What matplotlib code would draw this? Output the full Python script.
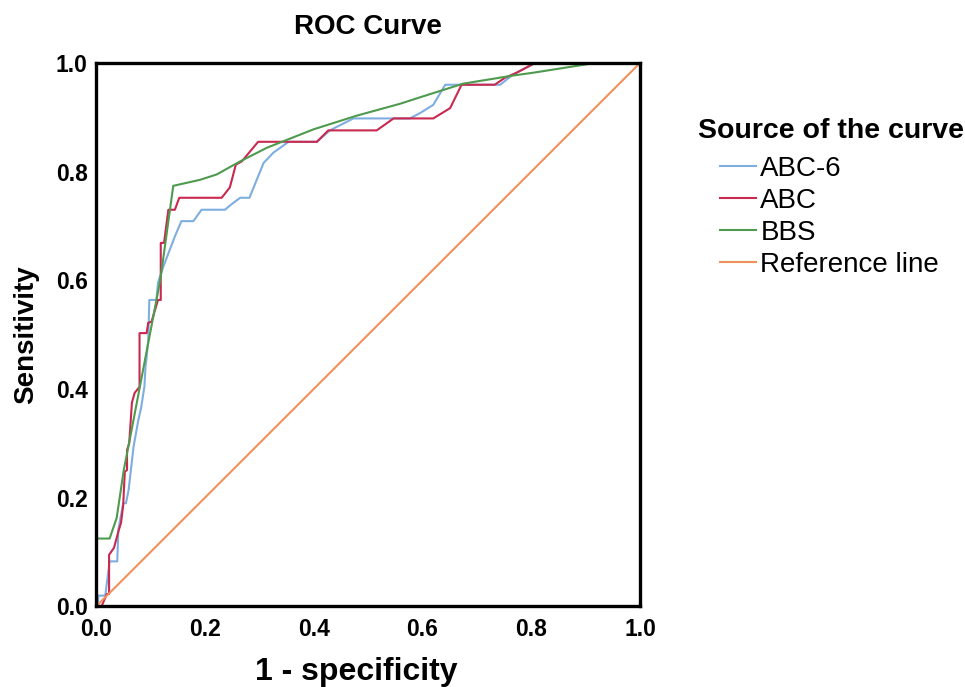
import matplotlib
matplotlib.use("Agg")
from matplotlib import pyplot as plt

plt.rcParams['font.family'] = ['Liberation Sans', 'DejaVu Sans']

# ABC-6 curve (1 - specificity, sensitivity)
abc6X = [0, 0.004, 0.004, 0.017, 0.025, 0.039, 0.040, 0.041, 0.050, 0.055, 0.060, 0.069,
         0.078, 0.083, 0.089, 0.091, 0.092, 0.096, 0.098, 0.111, 0.114, 0.124, 0.145, 0.157,
         0.179, 0.194, 0.237, 0.249, 0.265, 0.282, 0.308, 0.326, 0.354, 0.406, 0.430, 0.473,
         0.577, 0.596, 0.620, 0.642, 0.743, 0.767, 0.807, 1.0]
abc6Y = [0, 0, 0.020, 0.020, 0.083, 0.083, 0.110, 0.141, 0.190, 0.190, 0.215, 0.294,
         0.344, 0.366, 0.405, 0.442, 0.449, 0.490, 0.564, 0.564, 0.596, 0.626, 0.681, 0.709,
         0.709, 0.730, 0.730, 0.740, 0.752, 0.752, 0.816, 0.835, 0.855, 0.855, 0.876, 0.898,
         0.898, 0.908, 0.923, 0.960, 0.960, 0.979, 1.0, 1.0]

# ABC curve
abcX = [0, 0.010, 0.020, 0.024, 0.024, 0.033, 0.042, 0.046, 0.050, 0.051, 0.053, 0.057,
        0.057, 0.061, 0.066, 0.071, 0.080, 0.080, 0.093, 0.096, 0.102, 0.114, 0.119, 0.119,
        0.125, 0.133, 0.145, 0.153, 0.231, 0.246, 0.257, 0.268, 0.298, 0.406, 0.427, 0.516,
        0.547, 0.620, 0.651, 0.672, 0.733, 0.752, 0.773, 0.807, 1.0]
abcY = [0, 0, 0.023, 0.023, 0.095, 0.108, 0.141, 0.154, 0.187, 0.209, 0.248, 0.251,
        0.288, 0.300, 0.375, 0.393, 0.404, 0.503, 0.503, 0.522, 0.524, 0.564, 0.564, 0.669,
        0.669, 0.730, 0.730, 0.752, 0.752, 0.771, 0.813, 0.819, 0.855, 0.855, 0.876, 0.876,
        0.898, 0.898, 0.917, 0.960, 0.960, 0.973, 0.982, 1.0, 1.0]

# BBS curve
bbsX = [0, 0, 0.025, 0.038, 0.051, 0.062, 0.118, 0.142, 0.191, 0.222, 0.265, 0.314,
        0.400, 0.479, 0.559, 0.596, 0.675, 0.767, 0.803, 0.917, 1.0]
bbsY = [0, 0.125, 0.125, 0.163, 0.251, 0.307, 0.600, 0.774, 0.785, 0.795, 0.819, 0.844,
        0.878, 0.903, 0.925, 0.937, 0.962, 0.977, 0.982, 1.0, 1.0]

refX = [0, 1]
refY = [0, 1]

ticks = [0, 0.2, 0.4, 0.6, 0.8, 1.0]
tickLabels = ["0.0", "0.2", "0.4", "0.6", "0.8", "1.0"]

fig = plt.figure(figsize=(9.65, 6.87), dpi=100)
ax = fig.add_axes([0.0995, 0.1172, 0.5637, 0.7911])

ax.plot(abc6X, abc6Y, color="#7eaee0", lw=1.5, label="ABC-6")
ax.plot(abcX, abcY, color="#c9294f", lw=1.5, label="ABC")
ax.plot(bbsX, bbsY, color="#4e9a4e", lw=1.5, label="BBS")
ax.plot(refX, refY, color="#f2905c", lw=1.5, label="Reference line")

ax.set_xlim(0, 1)
ax.set_ylim(0, 1)
ax.set_xticks(ticks)
ax.set_yticks(ticks)
ax.set_xticklabels(tickLabels)
ax.set_yticklabels(tickLabels)
ax.tick_params(length=0, labelsize=16.5)
ax.tick_params(axis="x", pad=8)
ax.tick_params(axis="y", pad=6)
for lbl in ax.get_xticklabels() + ax.get_yticklabels():
    lbl.set_fontweight("bold")
for s in ax.spines.values():
    s.set_linewidth(2.4)
    s.set_color("black")

fig.text(368/965, 1 - 27/687, "ROC Curve", fontsize=20, fontweight="bold", ha="center", va="center")
fig.text(356/965, 1 - 672/687, "1 - specificity", fontsize=23, fontweight="bold", ha="center", va="center")
fig.text(26/965, 1 - 335/687, "Sensitivity", fontsize=20, fontweight="bold", ha="center", va="center",
         rotation=90)

# legend
fig.text(698/965, 1 - 131/687, "Source of the curve", fontsize=20.5, fontweight="bold", ha="left", va="center")
leg = ax.legend(loc="upper left", bbox_to_anchor=(720/965, 1 - 156/687), bbox_transform=fig.transFigure,
                frameon=False, fontsize=20, handlelength=1.3, handletextpad=0.15,
                labelspacing=0.21, borderpad=0, borderaxespad=0)

plt.savefig("out.png", dpi=100)
